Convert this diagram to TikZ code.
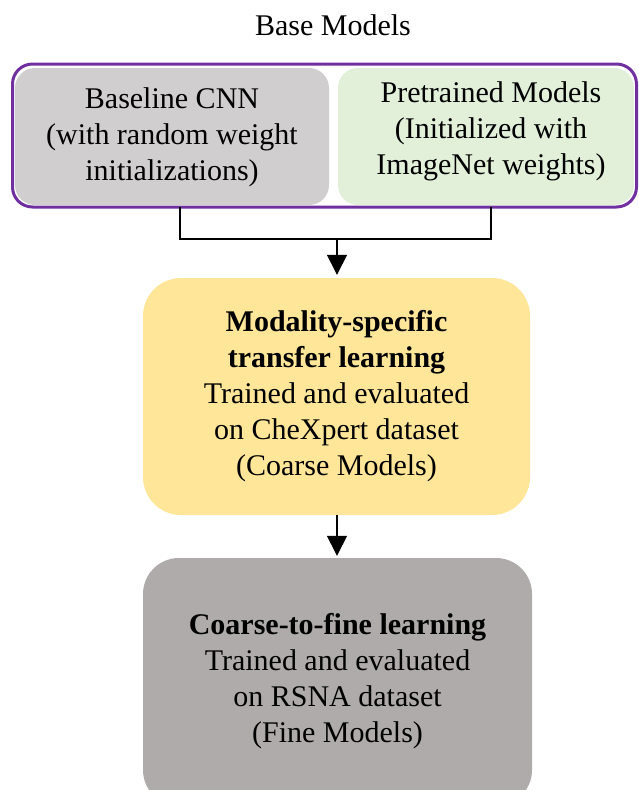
\documentclass[tikz,border=0pt]{standalone}
\usepackage{fontspec}
\setmainfont{Liberation Serif}
\usetikzlibrary{arrows.meta}
\definecolor{outerpurple}{HTML}{7030A0}
\definecolor{graylight}{HTML}{D0CECE}
\definecolor{greenlight}{HTML}{E2F0D9}
\definecolor{yellowbox}{HTML}{FFE699}
\definecolor{graydark}{HTML}{AFABAB}
\tikzset{
  txt/.style={font=\fontsize{30}{36}\selectfont, align=center, text=black},
  box/.style={inner sep=0pt, draw=none},
  conn/.style={line width=1.4pt, black},
  arr/.style={conn, -{Triangle[width=20pt,length=20pt]}, shorten >=3pt}
}
\begin{document}
\begin{tikzpicture}[x=1pt,y=-1pt]
\clip (0,0) rectangle (638,790);
\useasboundingbox (0,0) rectangle (638,790);
\fill[white] (0,0) rectangle (638,790);

\node[txt] (title) at (333,25) {Base Models};

\node[box, draw=outerpurple, line width=3pt, rounded corners=20pt,
      minimum width=624pt, minimum height=143pt] (outer) at (324.5,135.5) {};
\node[box, fill=graylight, rounded corners=20pt,
      minimum width=314pt, minimum height=137pt] (L) at (172,136.5) {};
\node[txt] (Lt) at (172,137) {Baseline CNN\\(with random weight\\initializations)};
\node[box, fill=greenlight, rounded corners=20pt,
      minimum width=296pt, minimum height=137pt] (R) at (486,136.5) {};
\node[txt] (Rt) at (491,131) {Pretrained Models\\(Initialized with\\ImageNet weights)};

\node[box, fill=yellowbox, rounded corners=38pt,
      minimum width=387pt, minimum height=237pt] (Y) at (336.5,396.5) {};
\node[txt] (Yt) at (336.5,396) {\textbf{Modality-specific}\\\textbf{transfer learning}\\Trained and evaluated\\on CheXpert dataset\\(Coarse Models)};

\node[box, fill=graydark, rounded corners=36pt,
      minimum width=389pt, minimum height=248pt] (G) at (337.5,682) {};
\node[txt] (Gt) at (337.5,681) {\textbf{Coarse-to-fine learning}\\Trained and evaluated\\on RSNA dataset\\(Fine Models)};

\coordinate (j) at (337,239);
\coordinate (ls) at (180,207);
\coordinate (rs) at (491,207);
\draw[conn] (ls) -- (ls |- j) -- (rs |- j) -- (rs);
\draw[arr] (j) -- (Y.north -| j);
\draw[conn, -{Triangle[width=20pt,length=20pt]}, shorten >=2pt] (Y.south -| j) -- (G.north -| j);
\end{tikzpicture}
\end{document}
